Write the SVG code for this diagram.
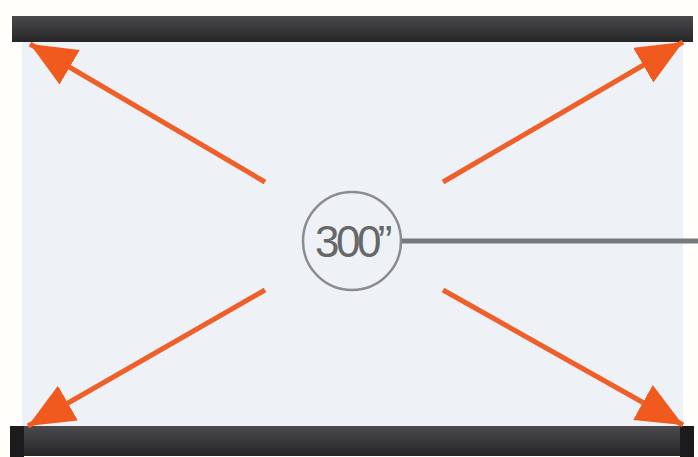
<svg xmlns="http://www.w3.org/2000/svg" width="698" height="457" viewBox="0 0 698 457">
<style>
.arrow{stroke:#ef5f2a;stroke-width:5;fill:none;marker-end:url(#ah)}
.cap{fill:#1c1c1e}
</style>
<defs>
<marker id="ah" markerUnits="userSpaceOnUse" markerWidth="50" markerHeight="44" refX="46" refY="20" orient="auto">
<path d="M0,0 L46,20 L0,40 Z" fill="#f05a1f"/>
</marker>
<linearGradient id="barg" x1="0" y1="0" x2="0" y2="1">
<stop offset="0" stop-color="#4a4a4c"/>
<stop offset="1" stop-color="#262628"/>
</linearGradient>
</defs>
<rect width="698" height="457" fill="#fffefa"/>
<g id="screen"><rect x="22" y="40" width="661" height="388" fill="#eef1f5"/></g>
<g id="top-bar"><rect x="12" y="16" width="681" height="26" fill="url(#barg)"/></g>
<g id="bottom-bar"><rect x="10" y="426" width="683" height="30" fill="url(#barg)"/><rect class="cap" x="10" y="426" width="14" height="31"/><rect class="cap" x="680" y="426" width="14" height="31"/></g>
<g id="connectors">
<line class="arrow" x1="265" y1="182" x2="30" y2="44"/>
<line class="arrow" x1="443" y1="182" x2="683" y2="42"/>
<line class="arrow" x1="265" y1="290" x2="28" y2="426"/>
<line class="arrow" x1="443" y1="290" x2="683" y2="425"/>
<line x1="402" y1="241" x2="698" y2="241" stroke="#767a7e" stroke-width="5"/>
</g>
<g id="size-label">
<circle cx="352" cy="241" r="49" fill="#eef1f5" stroke="#8a8c8e" stroke-width="2.5"/>
<text x="352" y="257" text-anchor="middle" font-family="Liberation Sans, Arial, sans-serif" font-size="44" fill="#666769" letter-spacing="-3.5">300”</text>
</g>
</svg>
